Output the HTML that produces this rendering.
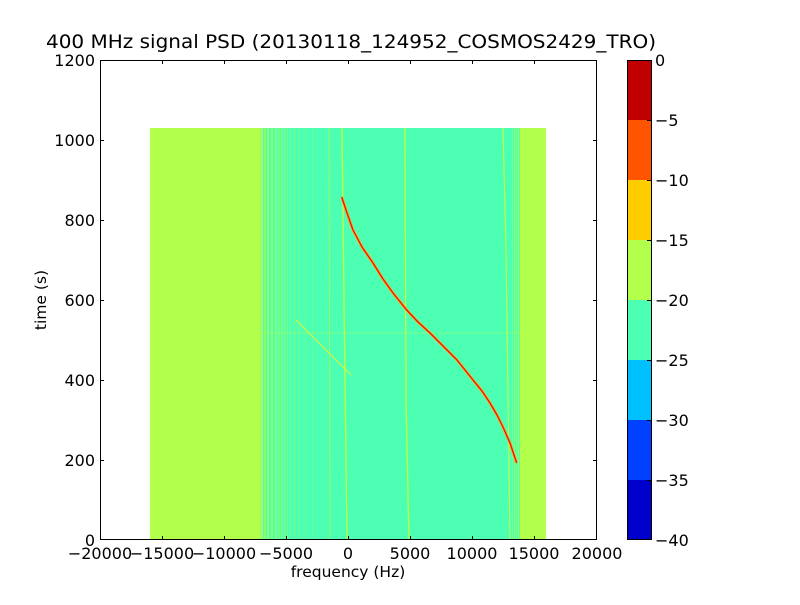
<!DOCTYPE html>
<html><head><style>body{margin:0;background:#fff}svg text{font-family:"DejaVu Sans","Liberation Sans",sans-serif}</style></head>
<body>
<svg width="800" height="600" viewBox="0 0 800 600" xmlns="http://www.w3.org/2000/svg">
<rect x="0" y="0" width="800" height="600" fill="#fff"/>
<!-- data -->
<rect x="150" y="128" width="396" height="412" fill="#4dffb3"/>
<rect x="150" y="128" width="110" height="412" fill="#b2ff4c"/>
<g fill="#b2ff4c">
<rect x="260" y="128" width="3" height="412" opacity="0.8"/>
<rect x="264" y="128" width="2" height="412" opacity="0.6"/>
<rect x="267" y="128" width="2" height="412" opacity="0.7"/>
<rect x="271" y="128" width="2" height="412" opacity="0.6"/>
<rect x="275" y="128" width="1.5" height="412" opacity="0.6"/>
<rect x="278" y="128" width="1.5" height="412" opacity="0.6"/>
<rect x="281" y="128" width="1.5" height="412" opacity="0.5"/>
<rect x="284" y="128" width="1" height="412" opacity="0.5"/>
<rect x="287" y="128" width="1" height="412" opacity="0.5"/>
<rect x="290" y="128" width="1" height="412" opacity="0.4"/>
<rect x="294" y="128" width="1" height="412" opacity="0.35"/>
<rect x="299" y="128" width="1" height="412" opacity="0.3"/>
<rect x="305" y="128" width="1" height="412" opacity="0.25"/>
<rect x="312" y="128" width="1" height="412" opacity="0.25"/>
<rect x="512" y="128" width="1" height="412" opacity="0.5"/>
<rect x="514" y="128" width="1" height="412" opacity="0.6"/>
<rect x="516" y="128" width="1" height="412" opacity="0.6"/>
<rect x="518" y="128" width="1" height="412" opacity="0.7"/>
</g>
<rect x="520" y="128" width="26" height="412" fill="#b2ff4c"/>
<!-- vertical lines -->
<path d="M342,128 L344,300 L347,540" stroke="#c8ff3c" stroke-width="1.3" fill="none"/>
<path d="M405,128 L406,400 L409,540" stroke="#c8ff3c" stroke-width="1.3" fill="none"/>
<path d="M503,128 L506,250 L510,540" stroke="#c8ff3c" stroke-width="1.1" fill="none"/>
<path d="M329,128 L330,540" stroke="#b2ff4c" stroke-width="1" fill="none" opacity="0.7"/>
<line x1="150" y1="333" x2="546" y2="333" stroke="#b2ff4c" stroke-width="0.8" opacity="0.6"/>
<!-- faint diagonal -->
<path d="M296,320 L351,375" stroke="#d8f040" stroke-width="1.2" fill="none"/>
<!-- main curve -->
<g fill="none" stroke-linejoin="round">
<polyline points="341.7,197 346,210 353,230 362,247 373,263 383,279 393,293 406.7,310 418,322 430,333 443,346 457,360 473,380 482,391 490,403 497,415 503,427 510,443 516.7,463" stroke="#ffaa30" stroke-width="3"/>
<polyline points="341.7,197 346,210 353,230 362,247 373,263 383,279 393,293 406.7,310 418,322 430,333 443,346 457,360 473,380 482,391 490,403 497,415 503,427 510,443 516.7,463" stroke="#dd1a00" stroke-width="1.3"/>
</g>
<!-- axes frame -->
<rect x="100.5" y="60.5" width="496" height="479" fill="none" stroke="#000" stroke-width="1"/>
<g stroke="#000" stroke-width="1">
<line x1="162.5" y1="540" x2="162.5" y2="536"/><line x1="162.5" y1="60" x2="162.5" y2="64"/>
<line x1="224.5" y1="540" x2="224.5" y2="536"/><line x1="224.5" y1="60" x2="224.5" y2="64"/>
<line x1="286.5" y1="540" x2="286.5" y2="536"/><line x1="286.5" y1="60" x2="286.5" y2="64"/>
<line x1="348.5" y1="540" x2="348.5" y2="536"/><line x1="348.5" y1="60" x2="348.5" y2="64"/>
<line x1="410.5" y1="540" x2="410.5" y2="536"/><line x1="410.5" y1="60" x2="410.5" y2="64"/>
<line x1="472.5" y1="540" x2="472.5" y2="536"/><line x1="472.5" y1="60" x2="472.5" y2="64"/>
<line x1="534.5" y1="540" x2="534.5" y2="536"/><line x1="534.5" y1="60" x2="534.5" y2="64"/>
<line x1="100" y1="460.5" x2="104" y2="460.5"/><line x1="597" y1="460.5" x2="593" y2="460.5"/>
<line x1="100" y1="380.5" x2="104" y2="380.5"/><line x1="597" y1="380.5" x2="593" y2="380.5"/>
<line x1="100" y1="300.5" x2="104" y2="300.5"/><line x1="597" y1="300.5" x2="593" y2="300.5"/>
<line x1="100" y1="220.5" x2="104" y2="220.5"/><line x1="597" y1="220.5" x2="593" y2="220.5"/>
<line x1="100" y1="140.5" x2="104" y2="140.5"/><line x1="597" y1="140.5" x2="593" y2="140.5"/>
</g>
<g font-size="16" fill="#000" text-anchor="middle">
<text x="100" y="559">−20000</text>
<text x="162" y="559">−15000</text>
<text x="224" y="559">−10000</text>
<text x="286" y="559">−5000</text>
<text x="348" y="559">0</text>
<text x="410" y="559">5000</text>
<text x="472" y="559">10000</text>
<text x="534" y="559">15000</text>
<text x="597" y="559">20000</text>
<text x="348" y="577" font-size="15.5">frequency (Hz)</text>
</g>
<g font-size="16" fill="#000" text-anchor="end">
<text x="95" y="546">0</text>
<text x="95" y="466">200</text>
<text x="95" y="386">400</text>
<text x="95" y="306">600</text>
<text x="95" y="226">800</text>
<text x="95" y="146">1000</text>
<text x="95" y="66">1200</text>
</g>
<text x="46" y="300" font-size="15.5" text-anchor="middle" transform="rotate(-90 46 300)">time (s)</text>
<text x="351" y="48" font-size="19" text-anchor="middle" textLength="610" lengthAdjust="spacingAndGlyphs">400 MHz signal PSD (20130118_124952_COSMOS2429_TRO)</text>
<!-- colorbar -->
<rect x="627" y="60" width="24" height="60" fill="#c00000"/>
<rect x="627" y="120" width="24" height="60" fill="#ff5500"/>
<rect x="627" y="180" width="24" height="60" fill="#ffcc00"/>
<rect x="627" y="240" width="24" height="60" fill="#b2ff4c"/>
<rect x="627" y="300" width="24" height="60" fill="#4dffb3"/>
<rect x="627" y="360" width="24" height="60" fill="#00c0ff"/>
<rect x="627" y="420" width="24" height="60" fill="#0040ff"/>
<rect x="627" y="480" width="24" height="60" fill="#0000cc"/>
<rect x="627.5" y="60.5" width="24" height="479" fill="none" stroke="#000"/>
<g stroke="#000">
<line x1="647" y1="120.5" x2="651" y2="120.5"/><line x1="647" y1="180.5" x2="651" y2="180.5"/>
<line x1="647" y1="240.5" x2="651" y2="240.5"/><line x1="647" y1="300.5" x2="651" y2="300.5"/>
<line x1="647" y1="360.5" x2="651" y2="360.5"/><line x1="647" y1="420.5" x2="651" y2="420.5"/>
<line x1="647" y1="480.5" x2="651" y2="480.5"/>
</g>
<g font-size="16" fill="#000">
<text x="655" y="66">0</text>
<text x="655" y="126">−5</text>
<text x="655" y="186">−10</text>
<text x="655" y="246">−15</text>
<text x="655" y="306">−20</text>
<text x="655" y="366">−25</text>
<text x="655" y="426">−30</text>
<text x="655" y="486">−35</text>
<text x="655" y="546">−40</text>
</g>
</svg>
</body></html>
